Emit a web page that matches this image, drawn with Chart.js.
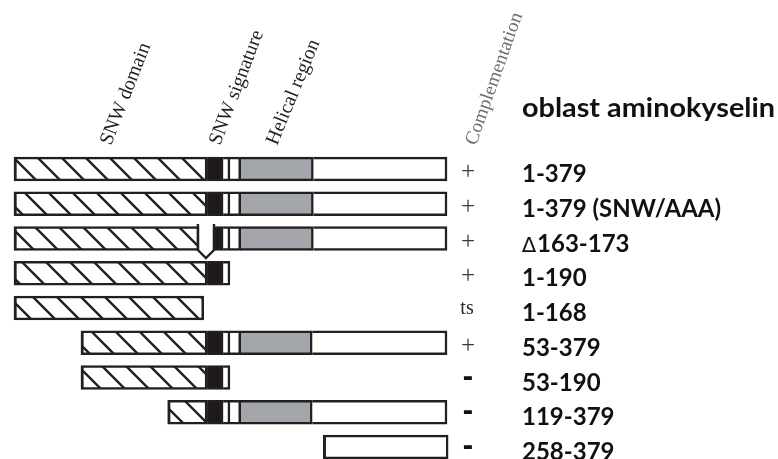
<!DOCTYPE html>
<html>
<head>
<meta charset="utf-8">
<script src="https://cdn.jsdelivr.net/npm/chart.js@4.4.1/dist/chart.umd.min.js"></script>
<style>
  body { margin: 0; background: #fff; }
  #wrap { width: 778px; height: 459px; }
</style>
</head>
<body>
<div id="wrap"><canvas id="domains" width="778" height="459"></canvas></div>
<script>
// constructs, top to bottom
const constructs = ['1-379', '1-379 (SNW/AAA)', '\u2206163-173', '1-190', '1-168', '53-379', '53-190', '119-379', '258-379'];
const complementation = ['+', '+', '+', '+', 'ts', '+', '-', '-', '-'];

// segment extents as drawn in the figure, residue units (null = segment absent)
const snwDomain    = [[0, 169], [0, 169], [0, 162], [0, 169], [0, 166], [58.6, 169], [58.6, 169], [134.5, 169], null];
const snwSignature = [[169, 183], [169, 183], [174, 183], [169, 183], null, [169, 183], [169, 183], [169, 183], null];
const linkerA      = [[183, 189], [183, 189], [183, 189], [183, 189], null, [183, 189], [183, 189], [183, 189], null];
const linkerB      = [[189, 198.4], [189, 198.4], [189, 198.4], null, null, [189, 198.4], null, [189, 198.4], null];
const helical      = [[198.4, 262], [198.4, 262], [198.4, 262], null, null, [198.4, 261], null, [198.4, 261], null];
const cTerminal    = [[262, 379], [262, 379], [262, 379], null, null, [261, 379], null, [261, 379], [270.7, 380]];
const deletion     = [null, null, [162, 174], null, null, null, null, null, null];
const pointMutation = [null, 176, null, null, null, null, null, null, null];

// header texts
const domainLabels = ['SNW domain', 'SNW signature', 'Helical region'];
const columnTitle = 'Complementation';
const listTitle = 'oblast aminokyselin';

const allSegments = [snwDomain, snwSignature, linkerA, linkerB, helical, cTerminal];
function rowStart(i) {
    let m = Infinity;
    allSegments.forEach(s => { if (s[i]) m = Math.min(m, s[i][0]); });
    return m;
}

// diagonal hatching for the SNW domain
function hatch() {
    const c = document.createElement('canvas');
    c.width = 24; c.height = 24;
    const g = c.getContext('2d');
    g.fillStyle = '#fff';
    g.fillRect(0, 0, 24, 24);
    g.strokeStyle = '#231f20';
    g.lineWidth = 2.4;
    g.beginPath();
    g.moveTo(-4, -4); g.lineTo(28, 28);
    g.moveTo(20, -4); g.lineTo(28, 4);
    g.moveTo(-4, 20); g.lineTo(4, 28);
    g.stroke();
    return g.createPattern(c, 'repeat');
}

const edge = '#231f20';

function segment(label, data, fill) {
    return {
        type: 'bar',
        label: label,
        data: data,
        backgroundColor: fill,
        borderColor: edge,
        borderSkipped: false,
        borderWidth: ctx => {
            const v = data[ctx.dataIndex];
            const left = (v && v[0] === rowStart(ctx.dataIndex)) ? 3 : 0;
            return { top: 2.7, bottom: 2.7, right: 2.5, left: left };
        },
        barThickness: 24,
        grouped: false,
        clip: false
    };
}

function fitText(ctx, text, x, y, angle, length) {
    ctx.save();
    ctx.translate(x, y);
    ctx.rotate(angle);
    if (length) {
        const w = ctx.measureText(text).width;
        ctx.scale(length / w, 1);
    }
    ctx.fillText(text, 0, 0);
    ctx.restore();
}

const annotate = {
    id: 'annotate',
    afterDatasetsDraw(chart) {
        const { ctx } = chart;
        const x = chart.scales.x, y = chart.scales.y;
        ctx.save();

        // deletion loop
        deletion.forEach((d, i) => {
            if (!d) return;
            const x1 = x.getPixelForValue(d[0]) - 1.2;
            const x2 = x.getPixelForValue(d[1]) + 1.2;
            const yc = y.getPixelForValue(i);
            ctx.strokeStyle = edge;
            ctx.lineWidth = 2.4;
            ctx.beginPath();
            ctx.moveTo(x1, yc - 14.5);
            ctx.lineTo(x1, yc + 11.5);
            ctx.lineTo((x1 + x2) / 2, yc + 19.5);
            ctx.lineTo(x2, yc + 11.5);
            ctx.lineTo(x2, yc - 14.5);
            ctx.stroke();
        });

        // rotated column headers
        const rad = Math.PI / 180;
        ctx.fillStyle = '#231f20';
        ctx.font = '20px "Liberation Serif", serif';
        ctx.textAlign = 'left';
        ctx.textBaseline = 'alphabetic';
        fitText(ctx, domainLabels[0], 111, 146, -68.5 * rad, 108);
        fitText(ctx, domainLabels[1], 220, 146, -69 * rad, 121);
        fitText(ctx, domainLabels[2], 277, 146, -67.5 * rad, 112);
        ctx.fillStyle = '#6d6d6d';
        ctx.font = '19px "Liberation Serif", serif';
        fitText(ctx, columnTitle, 476, 146, -70.5 * rad, 139);

        ctx.fillStyle = '#111';
        ctx.font = 'bold 27px Lato, "DejaVu Sans", sans-serif';
        fitText(ctx, listTitle, 522, 117, 0, 253);

        // complementation column and construct names
        constructs.forEach((name, i) => {
            const yc = y.getPixelForValue(i);
            const c = complementation[i];
            ctx.textAlign = 'center';
            if (c === '+') {
                ctx.fillStyle = '#3a3a3a';
                ctx.font = '25px "Liberation Serif", serif';
                ctx.fillText(c, 468, yc + 10);
            } else if (c === 'ts') {
                ctx.fillStyle = '#2a2a2a';
                ctx.font = '20px "Liberation Serif", serif';
                ctx.fillText(c, 467, yc + 6);
            } else {
                ctx.fillStyle = '#111';
                ctx.font = 'bold 26px "DejaVu Sans", sans-serif';
                ctx.fillText(c, 468, yc + 8);
            }
            ctx.textAlign = 'left';
            ctx.fillStyle = '#111';
            let tx = 522;
            let rest = name;
            if (name.charAt(0) === '\u2206') {
                // the delta sign is set lighter than the numbers
                ctx.font = '21px "DejaVu Sans", sans-serif';
                ctx.fillText('\u2206', tx, yc + 13);
                tx += ctx.measureText('\u2206').width + 1;
                rest = name.slice(1);
            }
            ctx.font = 'bold 24px Lato, "DejaVu Sans", sans-serif';
            ctx.fillText(rest, tx, yc + 13);
        });
        ctx.restore();
    }
};

const mutationPoints = [];
pointMutation.forEach((v, i) => { if (v !== null) mutationPoints.push({ x: v, y: constructs[i] }); });

new Chart(document.getElementById('domains'), {
    data: {
        labels: constructs,
        datasets: [
            segment('SNW domain', snwDomain, hatch()),
            segment('SNW signature', snwSignature, '#1e1a1b'),
            segment('linker A', linkerA, '#ffffff'),
            segment('linker B', linkerB, '#ffffff'),
            segment('Helical region', helical, '#a3a6ab'),
            segment('C-terminal', cTerminal, '#ffffff'),
            {
                type: 'line',
                label: 'SNW/AAA',
                data: mutationPoints,
                showLine: false,
                pointRadius: 2.6,
                pointBackgroundColor: '#ffffff',
                pointBorderWidth: 0,
                clip: false
            }
        ]
    },
    options: {
        indexAxis: 'y',
        responsive: false,
        animation: false,
        events: [],
        layout: { autoPadding: false, padding: { top: 169, bottom: 12, left: 0, right: 0 } },
        scales: {
            x: { type: 'linear', min: -12.25, max: 668.7, bounds: 'data', display: false },
            y: { type: 'category', offset: false, display: false }
        },
        plugins: {
            legend: { display: false },
            tooltip: { enabled: false }
        }
    },
    plugins: [annotate]
});
</script>
</body>
</html>
